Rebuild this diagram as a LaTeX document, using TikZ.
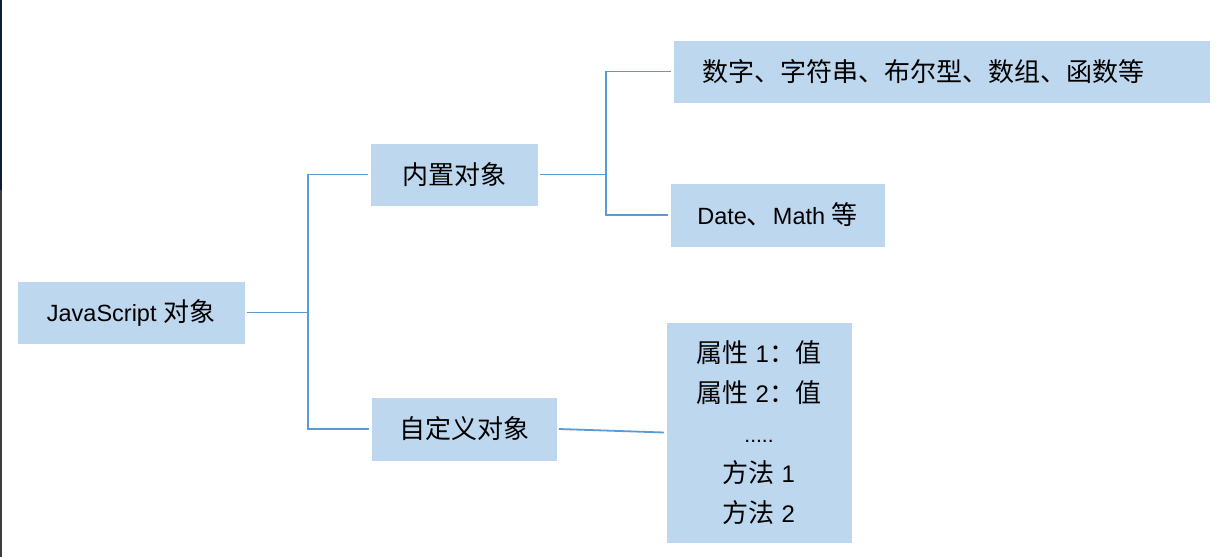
\documentclass[tikz,border=0pt]{standalone}
\usepackage{fontspec}
\setmainfont{Liberation Sans}
\newfontfamily\cjk{Noto Sans CJK SC}

\definecolor{boxfill}{RGB}{189,215,238}
\definecolor{linkblue}{RGB}{91,155,213}
\definecolor{edgenavy}{RGB}{12,28,60}
\definecolor{edgegray}{RGB}{60,60,60}

% CJK run at the size used inside the boxes
\newcommand{\zh}[1]{{\cjk\fontsize{26}{30}\selectfont #1}}

\begin{document}
\begin{tikzpicture}[x=1pt,y=-1pt,
  topic/.style={fill=boxfill, draw=white, line width=0.8pt, inner sep=0pt,
    outer sep=2pt, anchor=center, align=center,
    font=\fontsize{23.5}{26}\selectfont},
  link/.style={draw=linkblue, line width=1.8pt}]
\useasboundingbox (0,0) rectangle (1216,557);
\fill[white] (0,0) rectangle (1216,557);
% thin dark frame edge on the left
\fill[edgenavy] (0,0) rectangle (2,190);
\fill[edgegray] (0,190) rectangle (2,557);

% topic boxes
\node[topic, minimum width=228pt, minimum height=63pt] (js) at (131,312.5)
  {JavaScript \zh{对象}};
\node[topic, minimum width=168pt, minimum height=63pt] (builtin) at (454,174.5)
  {\zh{内置对象}};
\node[topic, minimum width=186pt, minimum height=64pt] (custom) at (464,429)
  {\zh{自定义对象}};
\node[topic, minimum width=537pt, minimum height=63pt] (prims) at (941.5,71.5)
  {\zh{数字、字符串、布尔型、数组、函数等}\hspace*{36pt}};
\node[topic, minimum width=215pt, minimum height=64pt] (datemath) at (777.5,215)
  {Date\zh{、}Math \zh{等}};
\node[topic, minimum width=186pt, minimum height=221pt,
  font=\fontsize{24}{40}\selectfont] (members) at (759,432.5)
  {\zh{属性} 1\zh{：值}\\
   \zh{属性} 2\zh{：值}\\
   \fontsize{21}{40}\selectfont .....\\
   \zh{方法} 1\\
   \zh{方法} 2};

% connector spines
\coordinate (spine) at (308,0);
\coordinate (fork) at (606,0);

\draw[link] (js.east) -- (js.east -| spine);
\draw[link] (builtin.west) -- (builtin.west -| spine)
  -- (custom.west -| spine) -- (custom.west);
\draw[link] (builtin.east) -- (builtin.east -| fork);
\draw[link] (prims.west) -- (prims.west -| fork)
  -- (datemath.west -| fork) -- (datemath.west);
\draw[link] (custom.east) -- (members.west);
\end{tikzpicture}
\end{document}
